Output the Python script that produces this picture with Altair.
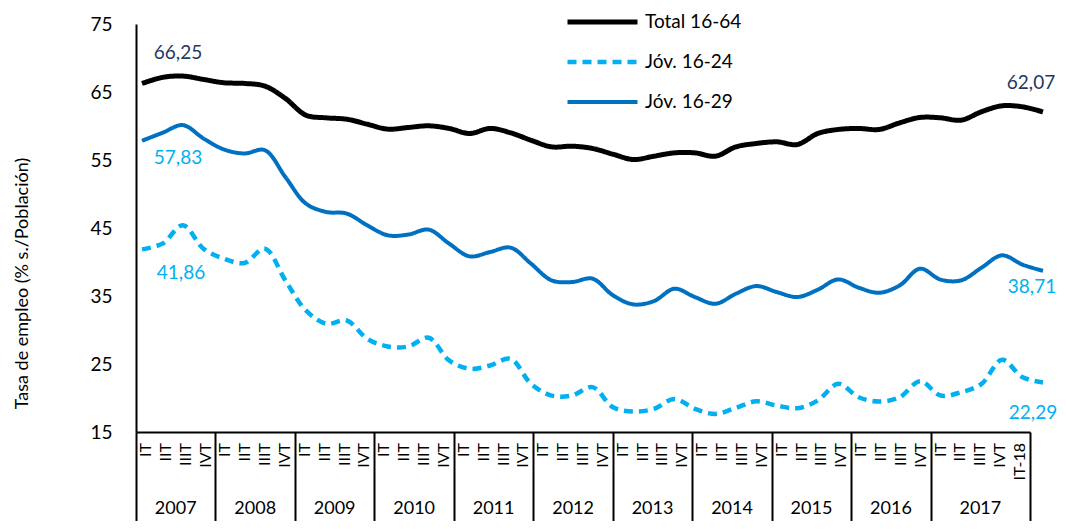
import altair as alt
import pandas as pd

# ---------------- data ----------------
series_names = ["Total 16-64", "Jóv. 16-24", "Jóv. 16-29"]

total_16_64 = [66.25, 67.15, 67.34, 66.85, 66.36, 66.26, 65.87, 64.06, 61.6, 61.2,
               61.0, 60.27, 59.54, 59.78, 60.03, 59.64, 58.9, 59.64, 59.0, 57.9,
               56.93, 57.03, 56.7, 55.85, 55.07, 55.56, 56.05, 56.05, 55.56, 56.93,
               57.43, 57.67, 57.28, 58.9, 59.49, 59.64, 59.49, 60.47, 61.26, 61.2,
               60.86, 62.1, 62.97, 62.82, 62.07]

jov_16_24 = [41.86, 42.7, 45.4, 41.96, 40.49, 39.85, 41.96, 37.3, 32.88, 30.92,
             31.4, 28.7, 27.58, 27.58, 28.86, 25.52, 24.3, 24.78, 25.76, 22.08,
             20.36, 20.36, 21.6, 18.64, 18.0, 18.4, 19.87, 18.4, 17.66, 18.55,
             19.52, 18.89, 18.5, 19.62, 22.08, 20.11, 19.48, 20.11, 22.47, 20.36,
             20.85, 22.08, 25.61, 23.06, 22.29]

jov_16_29 = [57.83, 59.0, 60.13, 58.17, 56.55, 55.96, 56.44, 52.5, 48.6, 47.36,
             47.12, 45.4, 43.93, 44.03, 44.76, 42.7, 40.83, 41.47, 42.11, 39.75,
             37.3, 37.05, 37.55, 35.1, 33.76, 34.25, 36.07, 34.85, 33.86, 35.33,
             36.46, 35.58, 34.85, 35.92, 37.44, 36.22, 35.48, 36.56, 39.02, 37.4,
             37.3, 39.17, 40.98, 39.61, 38.71]

quarter_labels = ["IT", "IIT", "IIIT", "IVT"] * 11 + ["IT-18"]
year_groups = ["2007"] * 4 + ["2008"] * 4 + ["2009"] * 4 + ["2010"] * 4 + ["2011"] * 4 + \
              ["2012"] * 4 + ["2013"] * 4 + ["2014"] * 4 + ["2015"] * 4 + ["2016"] * 4 + \
              ["2017"] * 5
y_ticks = [15, 25, 35, 45, 55, 65, 75]

# ---------------- tables ----------------
rows = []
for name, vals in zip(series_names, [total_16_64, jov_16_24, jov_16_29]):
    for i, v in enumerate(vals):
        rows.append({"i": i, "serie": name, "value": v})
df = pd.DataFrame(rows)

qdf = pd.DataFrame({"idx": list(range(len(quarter_labels))), "q": quarter_labels, "year": year_groups})
n = len(quarter_labels)
bounds = [-0.5] + [k - 0.5 for k in range(1, n) if year_groups[k] != year_groups[k - 1]] + [n - 0.5]

# ---------------- styles ----------------
FONT = "Lato"
colors = ["#000000", "#00B0F0", "#0070C0"]
NAVY = "#1F3864"
LBLUE = "#00B0F0"

W, H = 894, 408
line_x_scale = alt.Scale(domain=[0, 44], range=[6, 907], nice=False, zero=False)
cat_x_scale = alt.Scale(domain=[-0.5, 44.5], nice=False, zero=False)
y_scale = alt.Scale(domain=[15, 75], nice=False, zero=False)

y_axis = alt.Axis(values=y_ticks, ticks=False, grid=False, domainColor="black", domainWidth=2,
                  labelFont=FONT, labelFontSize=19, labelColor="black", labelPadding=24,
                  title="Tasa de empleo (% s./Población)", titleFont=FONT, titleFontSize=18,
                  titleFontWeight="normal", titleColor="black", titleAngle=270,
                  titleX=-114, titleY=259, titleAlign="center", titleBaseline="middle")
Y = alt.Y("value:Q", scale=y_scale, axis=y_axis)

legend = alt.Legend(title=None, orient="none", legendX=429, legendY=-14, labelFont=FONT,
                    labelFontSize=19, labelColor="black", symbolSize=4900, symbolStrokeWidth=4,
                    symbolType="stroke", clipHeight=24, rowPadding=16, labelOffset=5, padding=0)

lines = alt.Chart(df).mark_line(interpolate="catmull-rom").encode(
    x=alt.X("i:Q", scale=line_x_scale, axis=None),
    y=Y,
    color=alt.Color("serie:N", scale=alt.Scale(domain=series_names, range=colors), legend=legend),
    strokeDash=alt.StrokeDash("serie:N", scale=alt.Scale(domain=series_names, range=[[1, 0], [9, 6], [1, 0]]), legend=legend),
    strokeWidth=alt.StrokeWidth("serie:N", scale=alt.Scale(domain=series_names, range=[5, 4, 4]), legend=None),
)

# data labels (first and last values)
label_specs = [
    ("Total 16-64", 0, 36, -31, NAVY),
    ("Jóv. 16-29", 0, 36, 17, LBLUE),
    ("Jóv. 16-24", 0, 39, 24, LBLUE),
    ("Total 16-64", 44, -12, -29, NAVY),
    ("Jóv. 16-29", 44, -11, 16, LBLUE),
    ("Jóv. 16-24", 44, -10, 31, LBLUE),
]
label_layers = []
for serie, idx, dx, dy, col in label_specs:
    label_layers.append(
        alt.Chart(df).transform_filter(
            (alt.datum.serie == serie) & (alt.datum.i == idx)
        ).transform_calculate(
            txt="replace(format(datum.value, '.2f'), '.', ',')"
        ).mark_text(font=FONT, fontSize=19, color=col, dx=dx, dy=dy, align="center", baseline="middle").encode(
            x=alt.X("i:Q", scale=line_x_scale, axis=None),
            y=Y,
            text="txt:N",
        )
    )

# category axis with quarter labels
x_axis = alt.Axis(values=bounds, tickSize=97, tickWidth=2, tickColor="black", domainColor="black",
                  domainWidth=2, labels=False, grid=False, title=None)
qlabels = alt.Chart(qdf).mark_text(angle=270, align="right", baseline="middle", font=FONT,
                                   fontSize=16, color="black").encode(
    x=alt.X("idx:Q", scale=cat_x_scale, axis=x_axis),
    y=alt.value(419),
    text="q:N",
)

ylabels = alt.Chart(qdf).transform_aggregate(
    c="mean(idx)", groupby=["year"]
).mark_text(align="center", baseline="middle", font=FONT, fontSize=18, color="black").encode(
    x=alt.X("c:Q", scale=cat_x_scale, axis=None),
    y=alt.value(485),
    text="year:N",
)

chart = alt.layer(lines, qlabels, ylabels, *label_layers).resolve_scale(
    x="independent"
).properties(
    width=W, height=H,
    autosize=alt.AutoSizeParams(type="none"),
    padding={"left": 128, "top": 16, "right": 28, "bottom": 89},
    background="white",
).configure_view(stroke=None)

chart.save("out.html", embed_options={"renderer": "svg", "actions": False})
